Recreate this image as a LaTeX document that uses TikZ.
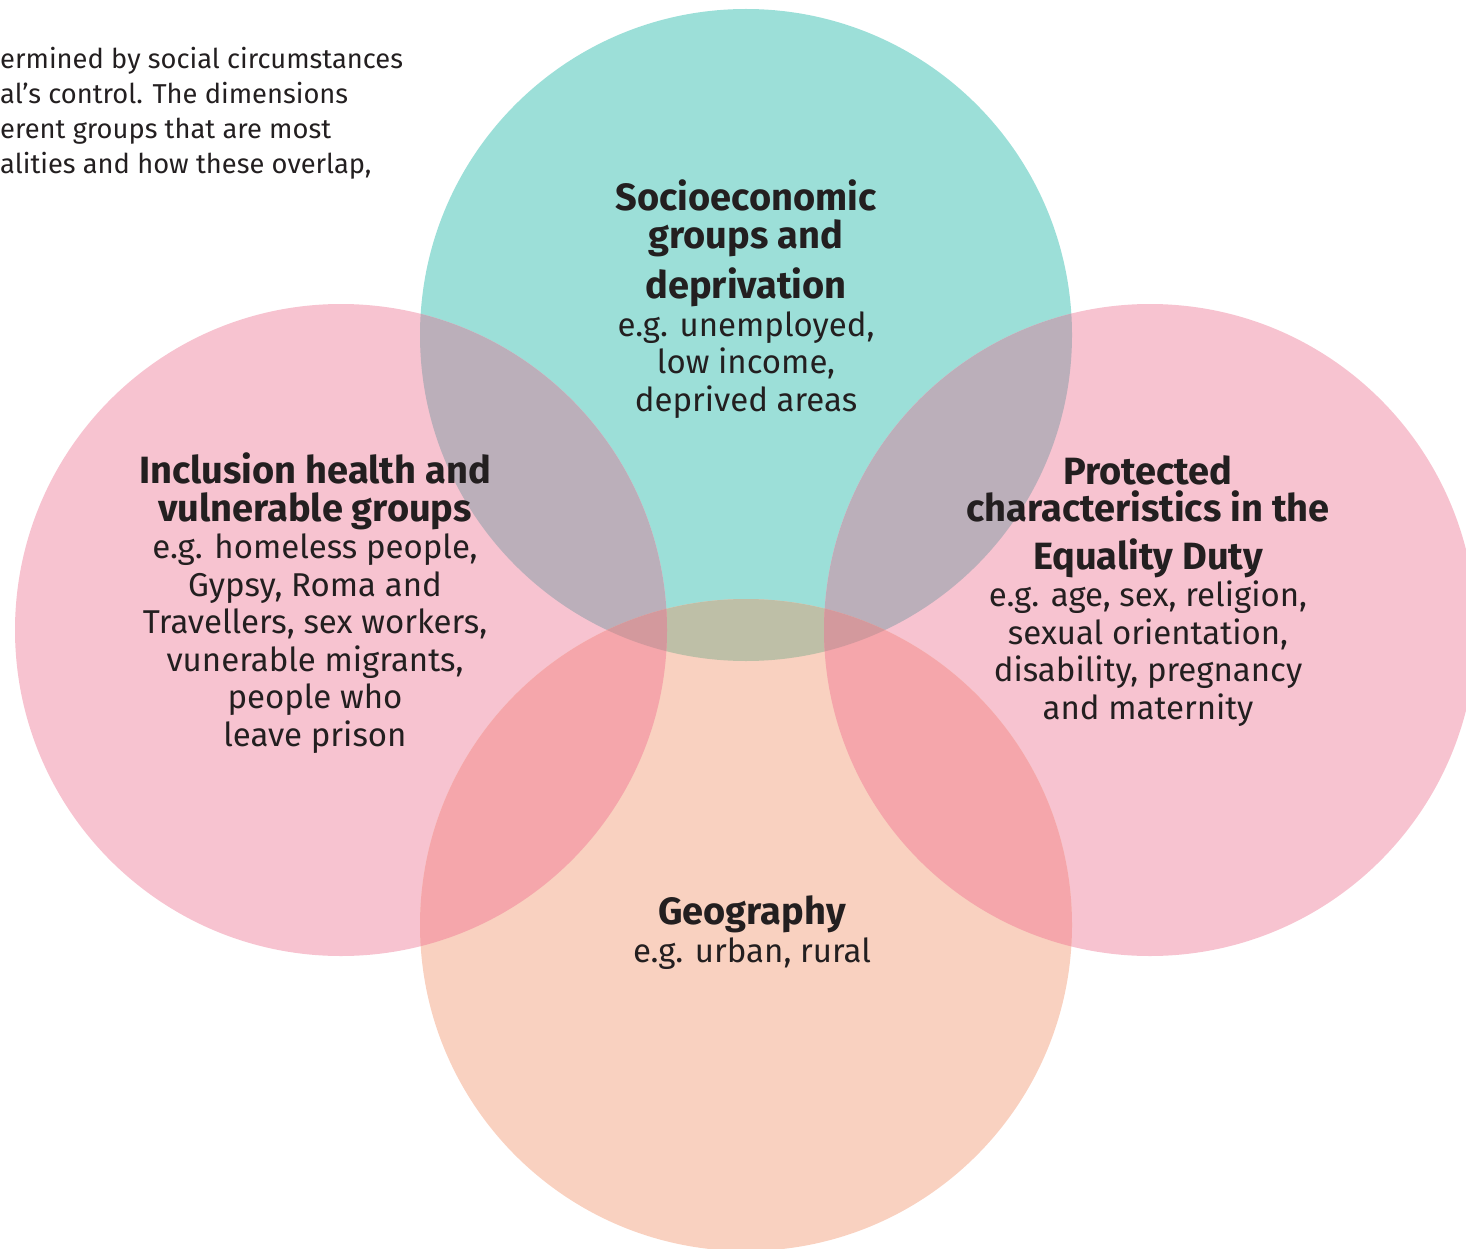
\documentclass[tikz,border=0pt]{standalone}
\usepackage{fontspec}
\setmainfont{Fira Sans}
\definecolor{ink}{HTML}{231F20}
\definecolor{socio}{HTML}{9CDFD8}
\definecolor{pinkring}{HTML}{F7C3D0}
\definecolor{georing}{HTML}{F9D1C0}
\definecolor{sociopink}{HTML}{BBAFBA}
\definecolor{pinkgeo}{HTML}{F5A6AB}
\definecolor{sociogeo}{HTML}{BEBFA7}
\definecolor{allthree}{HTML}{D3999D}
\newcommand{\ringr}{326pt}
\newcommand{\head}[1]{{\bfseries\fontsize{38}{37.5}\selectfont #1}}
\tikzset{
  ringtext/.style={inner sep=0pt, align=center, text=ink, anchor=base,
    font=\fontsize{33}{37.5}\selectfont},
  introtext/.style={inner sep=0pt, align=left, text=ink, anchor=base west,
    font=\fontsize{27.3}{35}\selectfont}
}
\begin{document}
\begin{tikzpicture}[x=1pt,y=-1pt]
\useasboundingbox (0,0) rectangle (1466,1249);
\coordinate (soc) at (746,335);
\coordinate (inc) at (341,630);
\coordinate (pro) at (1150,630);
\coordinate (geo) at (746,925);
% plain rings
\fill[socio] (soc) circle[radius=\ringr];
\fill[pinkring] (inc) circle[radius=\ringr];
\fill[pinkring] (pro) circle[radius=\ringr];
\fill[georing] (geo) circle[radius=\ringr];
% overlaps
\begin{scope}
  \clip (soc) circle[radius=\ringr];
  \fill[sociopink] (inc) circle[radius=\ringr];
  \fill[sociopink] (pro) circle[radius=\ringr];
  \fill[sociogeo] (geo) circle[radius=\ringr];
\end{scope}
\begin{scope}
  \clip (geo) circle[radius=\ringr];
  \fill[pinkgeo] (inc) circle[radius=\ringr];
  \fill[pinkgeo] (pro) circle[radius=\ringr];
\end{scope}
\begin{scope}
  \clip (soc) circle[radius=\ringr];
  \clip (geo) circle[radius=\ringr];
  \fill[allthree] (inc) circle[radius=\ringr];
  \fill[allthree] (pro) circle[radius=\ringr];
\end{scope}
% texts
\node[introtext] (intro) at (0,174) {ermined by social circumstances\\al’s control. The dimensions\\erent groups that are most\\alities and how these overlap,};
\node[ringtext] (soctext) at (746,411) {\head{Socioeconomic}\\\head{groups and}\\[10pt]\head{deprivation}\\e.g. unemployed,\\low income,\\deprived areas};
\node[ringtext] (inctext) at (315,746) {\head{Inclusion health and}\\\head{vulnerable groups}\\e.g. homeless people,\\Gypsy, Roma and\\Travellers, sex workers,\\vunerable migrants,\\people who\\leave prison};
\node[ringtext] (protext) at (1148,719) {\head{Protected}\\\head{characteristics in the}\\[10pt]\head{Equality Duty}\\e.g. age, sex, religion,\\sexual orientation,\\disability, pregnancy\\and maternity};
\node[ringtext] (geotext) at (752,962) {\head{Geography}\\e.g. urban, rural};
\end{tikzpicture}
\end{document}
